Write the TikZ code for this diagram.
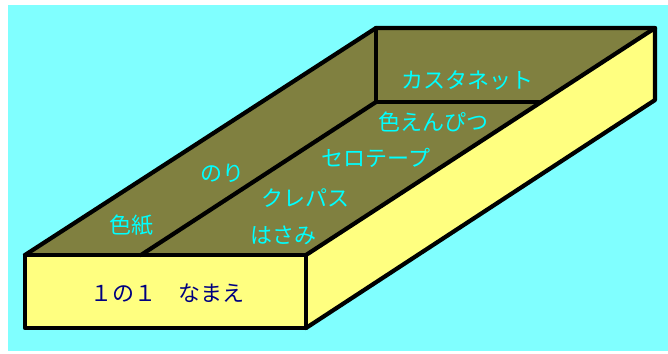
\documentclass[tikz,border=0pt]{standalone}
\usepackage{fontspec}
\newfontfamily\jpfont{Noto Sans CJK JP}
\usetikzlibrary{positioning}

\definecolor{skycyan}{HTML}{80FFFF}
\definecolor{trayolive}{HTML}{808040}
\definecolor{trayyellow}{HTML}{FFFF80}
\definecolor{itemcyan}{HTML}{00FFFF}
\definecolor{namenavy}{HTML}{000080}

\begin{document}
\begin{tikzpicture}[%
    x=1bp,
    y=-1bp,
    edge/.style={draw=black, line width=4.2bp, line join=round, line cap=round},
    item/.style={inner sep=0pt, text=itemcyan, font=\jpfont\fontsize{22bp}{26bp}\selectfont},
    namelabel/.style={item, text=namenavy}
  ]
  \useasboundingbox (0,0) rectangle (668,353);
  \fill[white] (0,0) rectangle (668,353);
  \fill[skycyan] (8,5) rectangle (668,351);

  % corners of the tray
  \coordinate (FTL) at (25,255);
  \coordinate (FTR) at (306,255);
  \coordinate (FBR) at (306,328);
  \coordinate (FBL) at (25,328);
  \coordinate (BTL) at (376,28);
  \coordinate (BTR) at (655,28);
  \coordinate (BBR) at (655,100);
  \coordinate (IBL) at (376,102);
  \coordinate (IBR) at (539,102);
  \coordinate (IFL) at (141,255);

  % faces
  \fill[trayolive] (FTL) -- (FTR) -- (BTR) -- (BTL) -- cycle;
  \fill[trayyellow] (FTL) -- (FTR) -- (FBR) -- (FBL) -- cycle;
  \fill[trayyellow] (FTR) -- (BTR) -- (BBR) -- (FBR) -- cycle;

  % edges
  \draw[edge] (FTL) -- (FTR) -- (FBR) -- (FBL) -- cycle;
  \draw[edge] (FTR) -- (BTR) -- (BBR) -- (FBR);
  \draw[edge] (FTL) -- (BTL) -- (BTR);
  \draw[edge] (BTL) -- (IBL) -- (IBR);
  \draw[edge] (IBL) -- (IFL);

  % contents
  \node[item] (castanets) at (467,80) {カスタネット};
  \node[item] (pencils) at (433,122) {色えんぴつ};
  \node[item] (tape) at (376,158) {セロテープ};
  \node[item] (crayons) at (305,198) {クレパス};
  \node[item] (scissors) at (283,235) {はさみ};
  \node[item] (glue) at (222,173) {のり};
  \node[item] (paper) at (131,225) {色紙};
  \node[namelabel] (name) at (167,293) {１の１　なまえ};
\end{tikzpicture}
\end{document}
